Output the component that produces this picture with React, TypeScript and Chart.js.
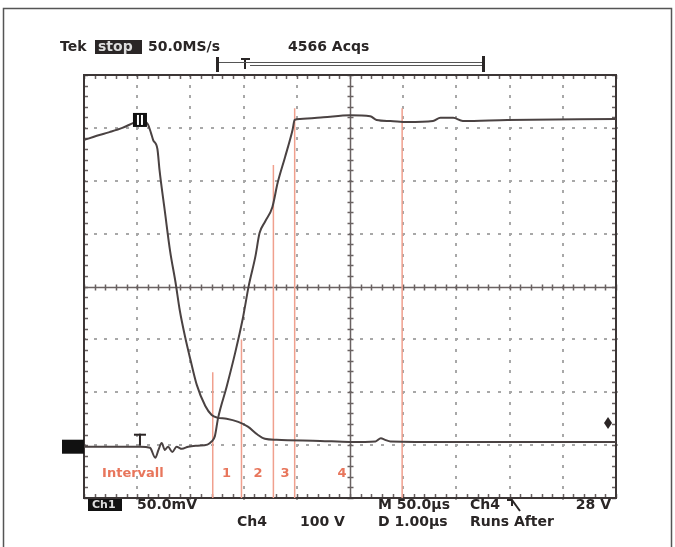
import React, { useEffect, useRef } from "react";
import { Chart, registerables } from "chart.js";
Chart.register(...registerables);

const W = 675;
const H = 547;

// Time axis: µs, 50 µs/div, 10 divisions. Vertical: screen divisions, 8 divisions.
const X_MIN = 0;
const X_MAX = 500;
const Y_MIN = -4;
const Y_MAX = 4;

// Trace 1 (falling: high level -> low level)
const fallTimes = [0, 12, 24, 36, 46, 53, 60, 63, 65, 69, 71, 76, 81, 86, 90, 95, 100, 106, 114, 120, 125, 134, 145, 154, 163, 170, 181, 222, 250, 274, 279, 283, 288, 344, 410, 500];
const fallValues = [2.77, 2.85, 2.92, 3.0, 3.09, 3.15, 3.07, 2.9, 2.77, 2.6, 2.2, 1.42, 0.66, 0.08, -0.45, -0.95, -1.38, -1.86, -2.26, -2.43, -2.48, -2.5, -2.56, -2.65, -2.8, -2.88, -2.9, -2.92, -2.94, -2.93, -2.87, -2.9, -2.93, -2.94, -2.94, -2.94];

// Trace 2 (rising: low level with ringing -> high level)
const riseTimes = [0, 53, 62, 67, 70, 73, 76, 79, 83, 87, 92, 98, 107, 116, 120, 123, 126, 134, 142, 149, 155, 161, 165, 170, 177, 182, 189, 196, 198, 203, 225, 250, 269, 275, 288, 304, 328, 335, 347, 356, 398, 500];
const riseValues = [-3.03, -3.03, -3.05, -3.24, -3.09, -2.96, -3.09, -3.03, -3.13, -3.03, -3.07, -3.03, -3.01, -2.99, -2.93, -2.83, -2.49, -1.9, -1.26, -0.63, 0.03, 0.56, 1.01, 1.22, 1.5, 1.96, 2.45, 2.96, 3.15, 3.17, 3.2, 3.24, 3.22, 3.15, 3.13, 3.11, 3.13, 3.19, 3.19, 3.13, 3.15, 3.17];

// Interval cursors (red)
const intervalTimes = [121, 148, 178, 198, 299];
const intervalTops = [-1.62, -1.0, 2.3, 3.37, 3.37];
const intervalLabels = ["1", "2", "3", "4"];
const intervalLabelTimes = [134, 163.5, 189, 242.5];
const intervalTitle = "Intervall";

// Readout texts
const headerTexts = { tek: "Tek", state: "stop", rate: "50.0MS/s", acqs: "4566 Acqs" };
const footerTexts = {
  ch1: "Ch1", ch1Scale: "50.0mV", ch4: "Ch4", ch4Scale: "100 V",
  m: "M 50.0µs", trigSrc: "Ch4", trigLevel: "28 V", d: "D 1.00µs", mode: "Runs After",
};

// Marker positions (in µs / divisions)
const groundLevel = -3.03;
const ch1MarkerTime = 52.6;
const ch1MarkerLevel = 3.15;
const trigMarkerTime = 52.6;
const trigLevelTime = 492.5;
const trigLevelMarker = -2.58;

const TRACE = "#4a4242";
const RED = "#f0a08e";
const RED_TEXT = "#e8765c";
const FONT = "DejaVu Sans";

const scopePlugin = {
  id: "scope",
  beforeDraw(chart: any) {
    const ctx = chart.ctx;
    ctx.save();
    ctx.fillStyle = "#ffffff";
    ctx.fillRect(0, 0, W, H);
    ctx.strokeStyle = "#555";
    ctx.lineWidth = 1.5;
    ctx.strokeRect(3.5, 8.5, 668, 560);
    ctx.restore();
  },
  beforeDatasetsDraw(chart: any) {
    const ctx = chart.ctx;
    const xs = chart.scales.x;
    const ys = chart.scales.y;
    const { left, right, top, bottom } = chart.chartArea;
    ctx.save();
    // dotted grid
    ctx.fillStyle = "#a8a8a8";
    for (let i = 1; i < 10; i++) {
      if (i === 5) continue;
      const px = Math.round(xs.getPixelForValue(i * 50));
      for (let j = 0; j <= 40; j++) {
        const py = ys.getPixelForValue(Y_MIN + j * 0.2);
        ctx.fillRect(px - 1, Math.round(py) - 1, 2, 3);
      }
    }
    for (let j = 1; j < 8; j++) {
      if (j === 4) continue;
      const py = Math.round(ys.getPixelForValue(Y_MIN + j));
      for (let i = 0; i <= 50; i++) {
        const px = xs.getPixelForValue(i * 10);
        ctx.fillRect(Math.round(px) - 1, py - 1, 3, 2);
      }
    }
    // center lines with ticks
    const cx = Math.round(xs.getPixelForValue(250)) + 0.5;
    const cy = Math.round(ys.getPixelForValue(0)) + 0.5;
    ctx.strokeStyle = "#6a6262";
    ctx.lineWidth = 1.5;
    ctx.beginPath();
    ctx.moveTo(cx, top);
    ctx.lineTo(cx, bottom);
    ctx.moveTo(left, cy);
    ctx.lineTo(right, cy);
    ctx.stroke();
    ctx.beginPath();
    for (let i = 0; i <= 50; i++) {
      const px = Math.round(xs.getPixelForValue(i * 10)) + 0.5;
      ctx.moveTo(px, cy - 3);
      ctx.lineTo(px, cy + 3);
      ctx.moveTo(px, top);
      ctx.lineTo(px, top + 4);
      ctx.moveTo(px, bottom);
      ctx.lineTo(px, bottom - 4);
    }
    for (let j = 0; j <= 40; j++) {
      const py = Math.round(ys.getPixelForValue(Y_MIN + j * 0.2)) + 0.5;
      ctx.moveTo(cx - 3, py);
      ctx.lineTo(cx + 3, py);
      ctx.moveTo(left, py);
      ctx.lineTo(left + 4, py);
      ctx.moveTo(right, py);
      ctx.lineTo(right - 4, py);
    }
    ctx.stroke();
    // frame
    ctx.strokeStyle = "#3c3636";
    ctx.lineWidth = 2;
    ctx.strokeRect(left, top, right - left, bottom - top);
    ctx.restore();
  },
  afterDatasetsDraw(chart: any) {
    const ctx = chart.ctx;
    const xs = chart.scales.x;
    const ys = chart.scales.y;
    const { left, right, bottom } = chart.chartArea;
    ctx.save();
    // interval labels
    ctx.fillStyle = RED_TEXT;
    ctx.font = `bold 13px "${FONT}"`;
    ctx.textBaseline = "middle";
    ctx.textAlign = "left";
    const ly = ys.getPixelForValue(-3.54);
    ctx.fillText(intervalTitle, xs.getPixelForValue(17), ly);
    ctx.textAlign = "center";
    intervalLabels.forEach((t, i) => ctx.fillText(t, xs.getPixelForValue(intervalLabelTimes[i]), ly));

    // ground marker (left)
    const gy = ys.getPixelForValue(groundLevel);
    ctx.fillStyle = "#111";
    ctx.fillRect(left - 22, gy - 7, 22, 14);
    // ch1 marker box
    const mx = xs.getPixelForValue(ch1MarkerTime);
    const my = ys.getPixelForValue(ch1MarkerLevel);
    ctx.fillRect(mx - 7, my - 7, 14, 14);
    ctx.fillStyle = "#fff";
    ctx.fillRect(mx - 3, my - 5, 2, 10);
    ctx.fillRect(mx + 1, my - 5, 2, 10);
    // trigger position marker T
    const tx = xs.getPixelForValue(trigMarkerTime);
    ctx.fillStyle = "#2a2424";
    ctx.fillRect(tx - 6, gy - 13, 12, 2);
    ctx.fillRect(tx - 1, gy - 13, 2, 12);
    // trigger level diamond
    const dx = xs.getPixelForValue(trigLevelTime);
    const dy = ys.getPixelForValue(trigLevelMarker);
    ctx.beginPath();
    ctx.moveTo(dx, dy - 6);
    ctx.lineTo(dx + 4, dy);
    ctx.lineTo(dx, dy + 6);
    ctx.lineTo(dx - 4, dy);
    ctx.closePath();
    ctx.fill();

    // header
    ctx.fillStyle = "#2a2626";
    ctx.font = `bold 14px "${FONT}"`;
    ctx.textAlign = "left";
    ctx.textBaseline = "middle";
    ctx.fillText(headerTexts.tek, 60, 47);
    ctx.fillRect(95, 40, 47, 14);
    ctx.fillStyle = "#ddd";
    ctx.fillText(headerTexts.state, 98, 47);
    ctx.fillStyle = "#2a2626";
    ctx.fillText(headerTexts.rate, 148, 47);
    ctx.fillText(headerTexts.acqs, 288, 47);
    // record bar
    ctx.fillRect(216, 57, 3, 15);
    ctx.fillRect(482, 56, 3, 16);
    ctx.fillRect(241, 58, 9, 2);
    ctx.fillRect(244, 58, 2, 11);
    ctx.strokeStyle = "#555";
    ctx.lineWidth = 1;
    ctx.beginPath();
    ctx.moveTo(219, 62.5);
    ctx.lineTo(482, 62.5);
    ctx.moveTo(250, 65.5);
    ctx.lineTo(482, 65.5);
    ctx.stroke();

    // footer
    const r1 = bottom + 7;
    const r2 = bottom + 24;
    ctx.fillStyle = "#111";
    ctx.fillRect(88, bottom + 1, 34, 12);
    ctx.fillStyle = "#ddd";
    ctx.font = `bold 11px "${FONT}"`;
    ctx.fillText(footerTexts.ch1, 92, r1);
    ctx.fillStyle = "#2a2626";
    ctx.font = `bold 14px "${FONT}"`;
    ctx.fillText(footerTexts.ch1Scale, 137, r1);
    ctx.fillText(footerTexts.ch4, 237, r2);
    ctx.fillText(footerTexts.ch4Scale, 300, r2);
    ctx.fillText(footerTexts.m, 378, r1);
    ctx.fillText(footerTexts.trigSrc, 470, r1);
    ctx.textAlign = "right";
    ctx.fillText(footerTexts.trigLevel, right - 5, r1);
    ctx.textAlign = "left";
    ctx.fillText(footerTexts.d, 378, r2);
    ctx.fillText(footerTexts.mode, 470, r2);
    // slope symbol
    ctx.strokeStyle = "#2a2626";
    ctx.lineWidth = 2;
    ctx.beginPath();
    ctx.moveTo(507, r1 - 5);
    ctx.lineTo(512, r1 - 5);
    ctx.lineTo(520, r1 + 6);
    ctx.moveTo(512, r1 - 5);
    ctx.lineTo(512, r1 + 1);
    ctx.stroke();
    ctx.restore();
  },
};

export default function App() {
  const ref = useRef<HTMLCanvasElement>(null);
  useEffect(() => {
    if (!ref.current) return;
    const fall = fallTimes.map((t, i) => ({ x: t, y: fallValues[i] }));
    const rise = riseTimes.map((t, i) => ({ x: t, y: riseValues[i] }));
    const cursors = intervalTimes.map((t, i) => ({
      type: "line" as const,
      data: [{ x: t, y: intervalTops[i] }, { x: t, y: Y_MIN }],
      borderColor: RED,
      borderWidth: 1.5,
      pointRadius: 0,
      order: 2,
    }));
    const chart = new Chart(ref.current, {
      type: "line",
      data: {
        datasets: [
          ...cursors,
          { data: fall, borderColor: TRACE, borderWidth: 2, pointRadius: 0, cubicInterpolationMode: "monotone", order: 0 },
          { data: rise, borderColor: TRACE, borderWidth: 2, pointRadius: 0, cubicInterpolationMode: "monotone", order: 0 },
        ] as any,
      },
      options: {
        responsive: false,
        animation: false,
        devicePixelRatio: 1,
        layout: { padding: { left: 84, right: W - 616, top: 75, bottom: H - 498 } },
        plugins: { legend: { display: false }, tooltip: { enabled: false } },
        scales: {
          x: { type: "linear", min: X_MIN, max: X_MAX, display: false },
          y: { type: "linear", min: Y_MIN, max: Y_MAX, display: false },
        },
      },
      plugins: [scopePlugin],
    });
    return () => chart.destroy();
  }, []);
  return (
    <div style={{ position: "absolute", left: 0, top: 0, width: W, height: H }}>
      <canvas ref={ref} width={W} height={H} style={{ display: "block" }} />
    </div>
  );
}
